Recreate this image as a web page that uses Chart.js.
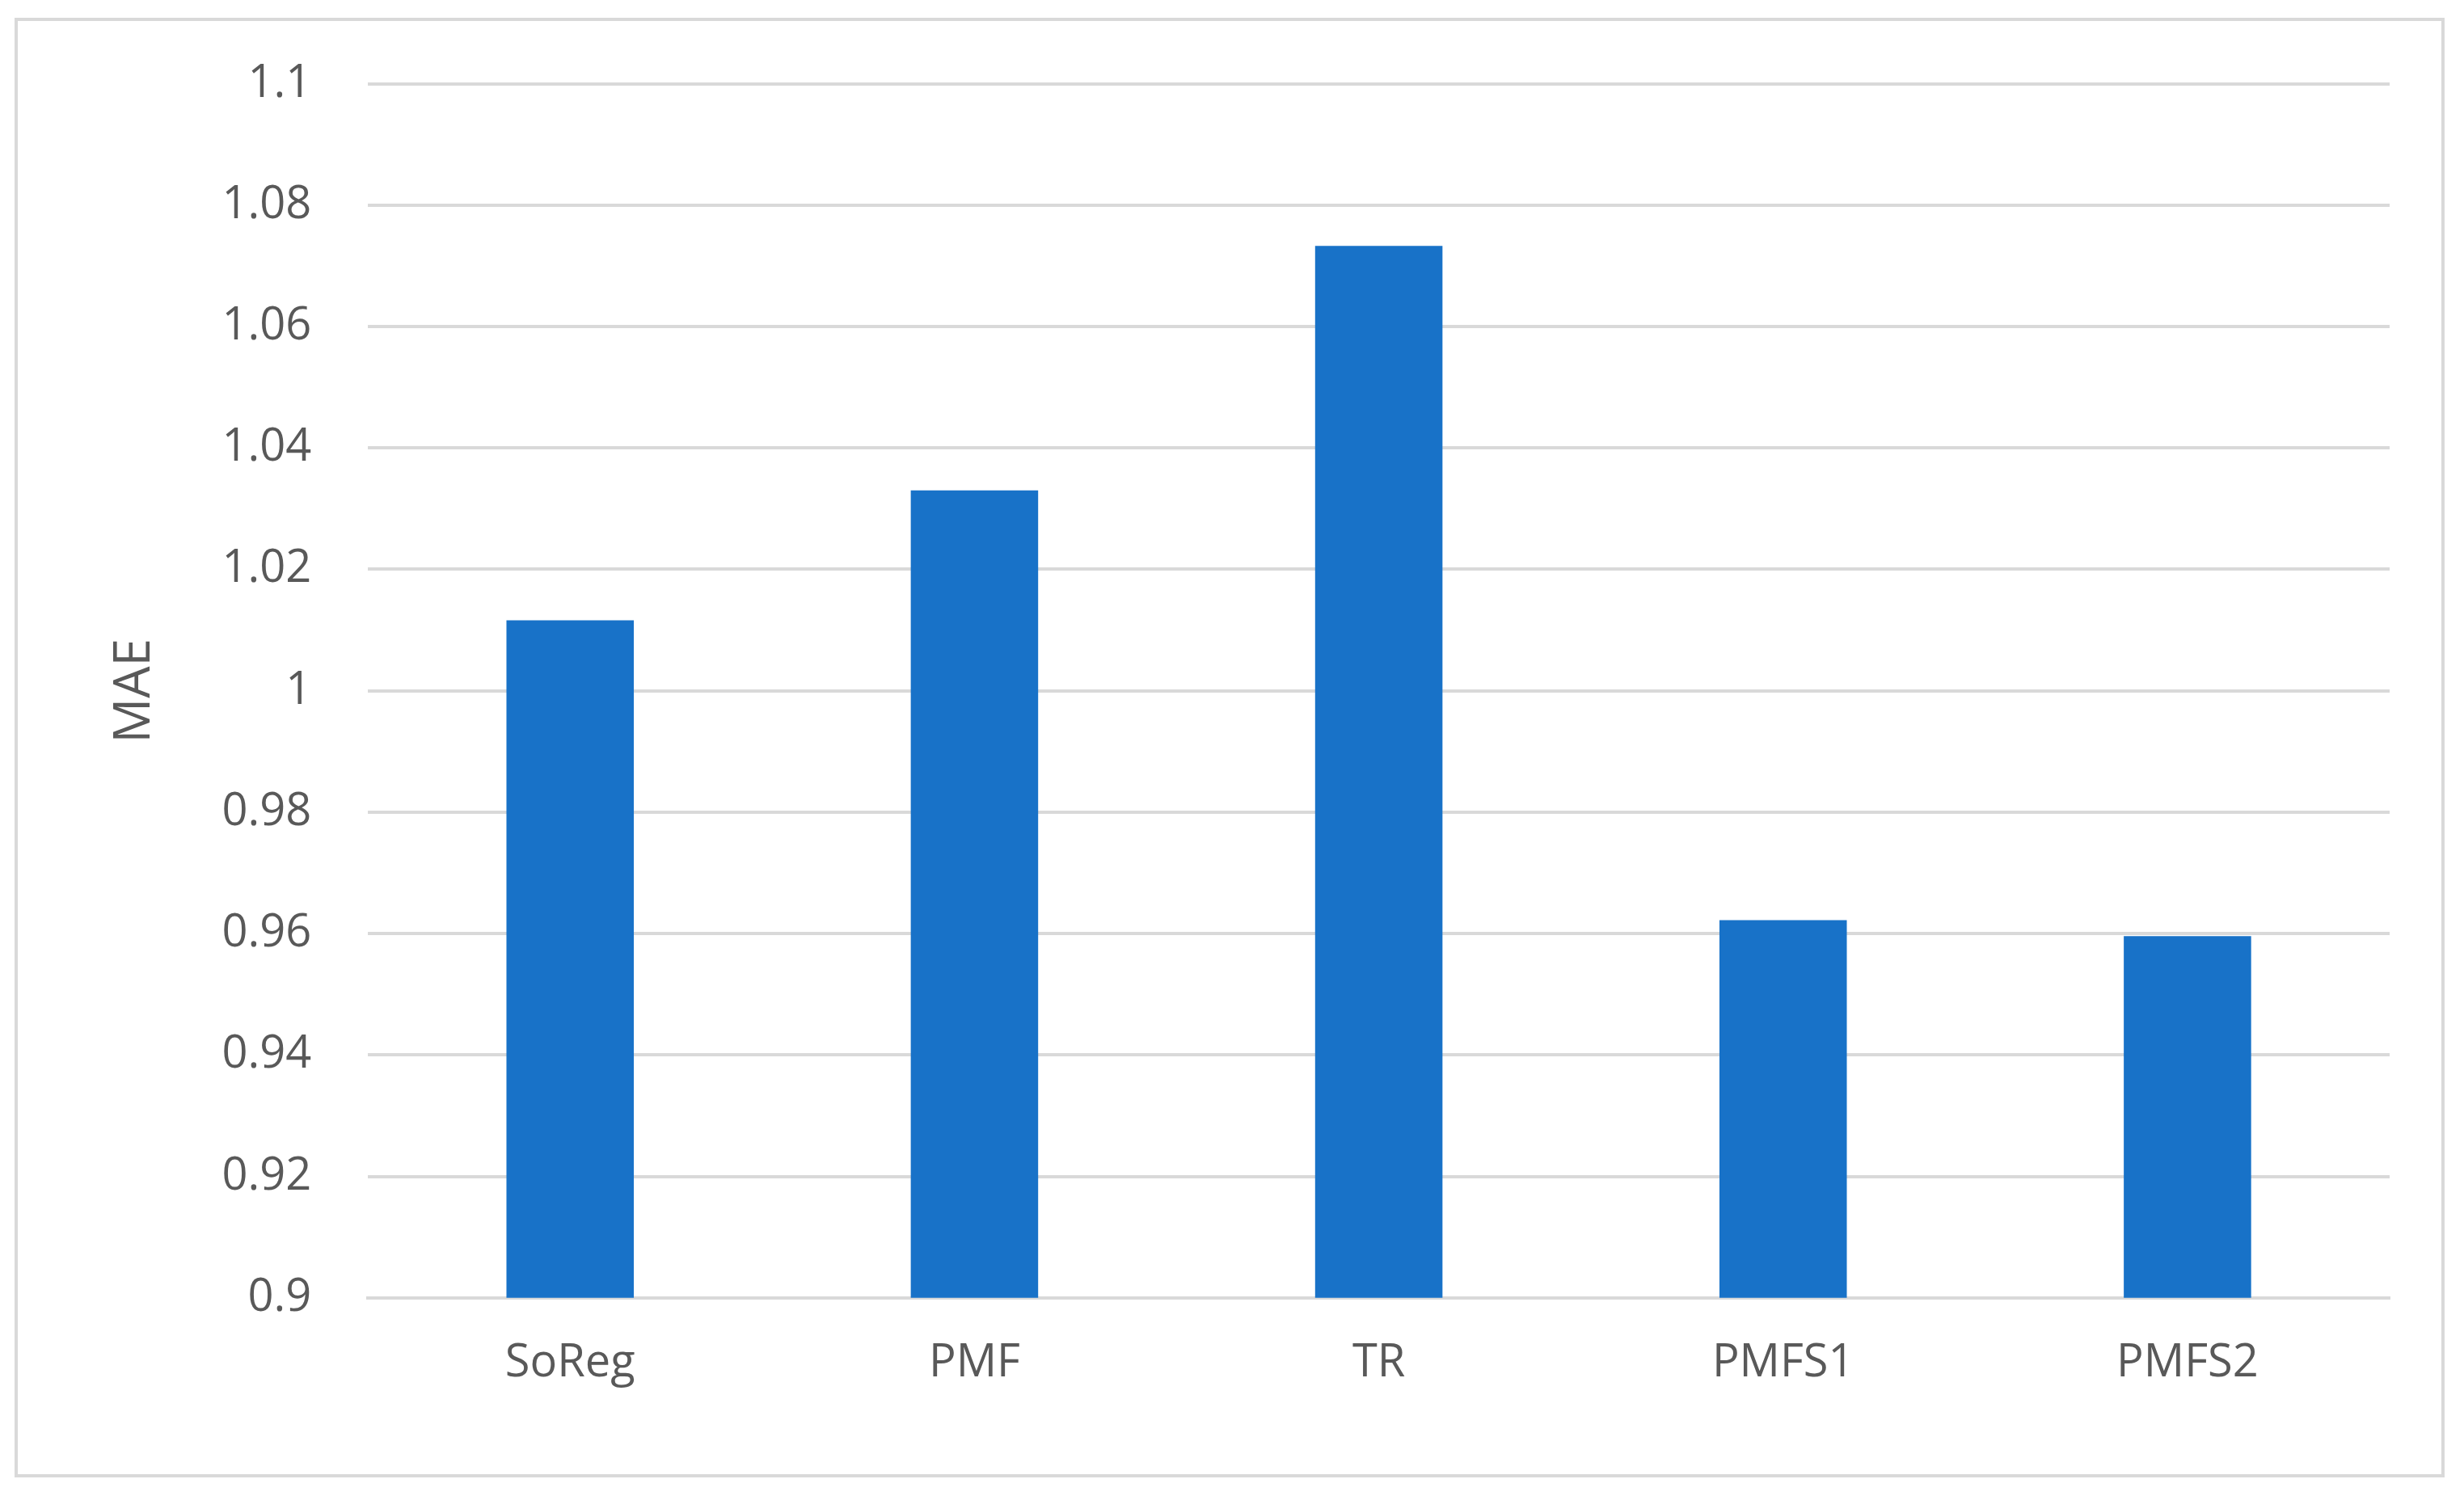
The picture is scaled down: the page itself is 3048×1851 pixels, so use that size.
<!DOCTYPE html>
<html>
<head>
<meta charset="utf-8">
<script src="https://cdn.jsdelivr.net/npm/chart.js@4/dist/chart.umd.min.js"></script>
<style>
  html, body { margin: 0; padding: 0; background: #fff; }
  #wrap { width: 3048px; height: 1851px; }
</style>
</head>
<body>
<div id="wrap"><canvas id="grafico"></canvas></div>
<script>
const metodos = ['SoReg', 'PMF', 'TR', 'PMFS1', 'PMFS2'];
const valoresMAE = [1.0116, 1.033, 1.0733, 0.9622, 0.9596];
const ticksY = [0.9, 0.92, 0.94, 0.96, 0.98, 1, 1.02, 1.04, 1.06, 1.08, 1.1];

// marco gris alrededor del grafico
const marco = {
  id: 'marco',
  beforeDraw(chart) {
    const ctx = chart.ctx;
    ctx.save();
    ctx.fillStyle = '#fff';
    ctx.fillRect(0, 0, chart.width, chart.height);
    ctx.strokeStyle = '#d9d9d9';
    ctx.lineWidth = 4;
    ctx.strokeRect(20, 24, 3002, 1802);
    ctx.restore();
  }
};

const fuente = "'Open Sans', 'Liberation Sans', sans-serif";

new Chart(document.getElementById('grafico'), {
  type: 'bar',
  data: {
    labels: metodos,
    datasets: [{
      label: 'MAE',
      data: valoresMAE,
      backgroundColor: '#1872c8',
      barPercentage: 0.315,
      categoryPercentage: 1
    }]
  },
  options: {
    responsive: true,
    maintainAspectRatio: false,
    animation: false,
    layout: { padding: { left: 130, right: 92, top: 90, bottom: 90 } },
    plugins: { legend: { display: false }, tooltip: { enabled: false } },
    scales: {
      x: {
        grid: { display: false },
        border: { color: '#d9d9d9', width: 4 },
        ticks: { color: '#595959', font: { family: fuente, size: 56 }, padding: 40 }
      },
      y: {
        min: 0.9,
        max: 1.1,
        afterBuildTicks(axis) { axis.ticks = ticksY.map(v => ({ value: v })); },
        grid: { color: '#d9d9d9', lineWidth: 4, drawTicks: false },
        border: { display: false },
        ticks: {
          color: '#595959',
          font: { family: fuente, size: 56 },
          padding: 70,
          callback: v => String(Math.round(v * 100) / 100)
        },
        title: {
          display: true,
          text: 'MAE',
          color: '#595959',
          font: { family: fuente, size: 62 },
          padding: 0
        }
      }
    }
  },
  plugins: [marco]
});
</script>
</body>
</html>
